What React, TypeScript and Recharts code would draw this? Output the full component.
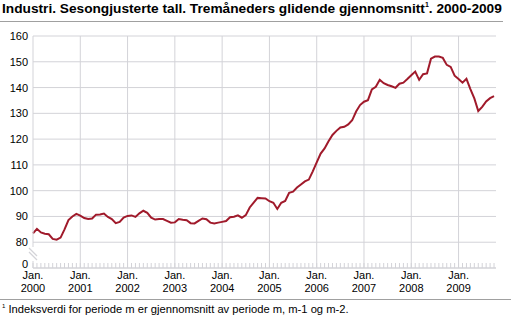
import { CartesianGrid, Line, LineChart, ReferenceLine, XAxis, YAxis } from "recharts"

document.body.style.margin = "0"

// monthly index, Jan 2000 .. Oct 2009
const values = [
  83.4, 85.2, 83.8, 83.3, 83.1, 81.3, 81.0, 81.8, 85.0, 88.6, 90.0, 91.0,
  90.3, 89.4, 89.0, 89.2, 90.7, 90.8, 91.1, 89.8, 89.0, 87.4, 87.9, 89.6,
  90.2, 90.4, 89.8, 91.2, 92.2, 91.4, 89.5, 88.8, 89.0, 89.0, 88.3, 87.6,
  87.7, 89.0, 88.7, 88.5, 87.4, 87.3, 88.3, 89.2, 88.9, 87.6, 87.3, 87.6,
  87.9, 88.2, 89.7, 89.9, 90.4, 89.5, 90.5, 93.5, 95.4, 97.2, 97.1, 97.0,
  95.9, 95.3, 92.9, 95.3, 96.0, 99.2, 99.6, 101.2, 102.4, 103.6, 104.3, 107.5,
  111.0, 114.4, 116.4, 119.2, 121.6, 123.2, 124.5, 124.8, 125.7, 127.3, 130.7, 133.2,
  134.5, 135.1, 139.3, 140.3, 143.0, 141.7, 141.0, 140.5, 139.9, 141.5, 141.9, 143.3,
  144.8, 146.2, 143.0, 145.2, 145.5, 151.2, 152.0, 152.0, 151.5, 148.8, 148.0, 144.6,
  143.3, 141.9, 143.4, 139.4, 135.8, 130.9, 132.5, 134.6, 135.9, 136.7,
]
const years = ["2000", "2001", "2002", "2003", "2004", "2005", "2006", "2007", "2008", "2009"]
const yTicks = [70, 80, 90, 100, 110, 120, 130, 140, 150, 160]

const data = values.map((v, i) => ({ m: i, v }))
const monthTicks = values.map((_, i) => i)

const FONT = "'Liberation Sans', Arial, sans-serif"
const GRID = "#d3d3d8"

function XTick(props: any) {
  const { x, y, payload } = props
  const i = payload.value
  const isJan = i % 12 === 0
  return (
    <g>
      <line x1={x} x2={x} y1={y} y2={y - 5} stroke={GRID} />
      {isJan && (
        <text x={x} y={y + 11} textAnchor="middle" fontSize={11} fill="#000" fontFamily={FONT}>
          Jan.
        </text>
      )}
      {isJan && (
        <text x={x} y={y + 24} textAnchor="middle" fontSize={11} fill="#000" fontFamily={FONT}>
          {years[i / 12]}
        </text>
      )}
    </g>
  )
}

function YTick(props: any) {
  const { y, payload } = props
  const zero = payload.value === 70
  return (
    <text x={28} y={zero ? y : y + 4} textAnchor="end" fontSize={11} fill="#000" fontFamily={FONT}>
      {zero ? "0" : payload.value}
    </text>
  )
}

export default function App() {
  return (
    <div style={{ position: "relative", width: 511, height: 322, background: "#fff", fontFamily: FONT }}>
      <div style={{ position: "absolute", left: 2, top: 1, fontSize: 13.7, fontWeight: "bold", whiteSpace: "nowrap" }}>
        Industri. Sesongjusterte tall. Tremåneders glidende gjennomsnitt<sup style={{ fontSize: 7 }}>1</sup>. 2000-2009
      </div>
      <div style={{ position: "absolute", left: 0, top: 21, width: 503, height: 1, background: "#a0a0a0" }} />
      <LineChart width={511} height={322} data={data} margin={{ top: 36, right: 15, bottom: 24, left: 0 }}>
        <CartesianGrid vertical={false} stroke={GRID} />
        {years.slice(1).map((_, k) => (
          <ReferenceLine key={k} x={(k + 1) * 12} stroke={GRID} />
        ))}
        <XAxis
          dataKey="m"
          type="number"
          domain={[0, 117.5]}
          ticks={monthTicks}
          interval={0}
          height={30}
          tickSize={0}
          tickMargin={0}
          axisLine={{ stroke: GRID }}
          tick={<XTick />}
        />
        <YAxis
          domain={[70, 160]}
          ticks={yTicks}
          width={33}
          tickSize={0}
          tickLine={false}
          axisLine={{ stroke: GRID }}
          tick={<YTick />}
        />
        <Line type="linear" dataKey="v" stroke="#a01a2b" strokeWidth={2} dot={false} isAnimationActive={false} />
      </LineChart>
      <svg style={{ position: "absolute", left: 0, top: 0 }} width={511} height={322}>
        <rect x={30} y={247} width={8} height={14} fill="#fff" />
        <line x1={29} y1={248} x2={37} y2={256} stroke={GRID} strokeWidth={1.2} />
        <line x1={29} y1={252} x2={37} y2={260} stroke={GRID} strokeWidth={1.2} />
      </svg>
      <div style={{ position: "absolute", left: 0, top: 299, width: 511, height: 1, background: "#a0a0a0" }} />
      <div style={{ position: "absolute", left: 2, top: 303, fontSize: 11.2, whiteSpace: "nowrap" }}>
        <sup style={{ fontSize: 6 }}>1</sup> Indeksverdi for periode m er gjennomsnitt av periode m, m-1 og m-2.
      </div>
    </div>
  )
}
